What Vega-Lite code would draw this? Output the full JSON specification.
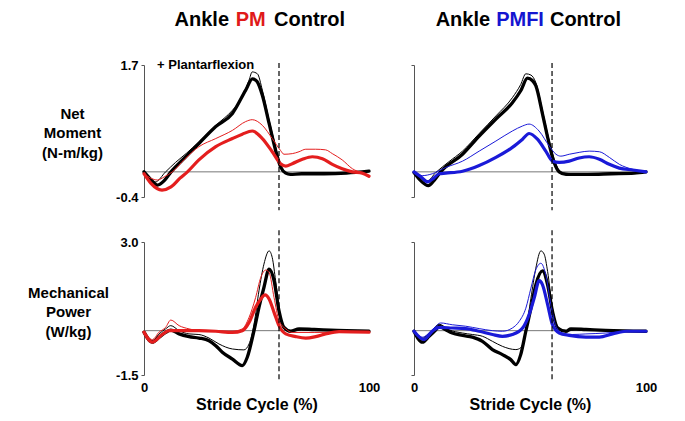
{
  "$schema": "https://vega.github.io/schema/vega-lite/v6.json",
  "padding": {"left": 27, "top": 10, "right": 5, "bottom": 5},
  "background": "white",
  "config": {
    "view": {"stroke": null},
    "font": "Liberation Sans",
    "axis": {"labelFont": "Liberation Sans", "titleFont": "Liberation Sans", "grid": false},
    "text": {"font": "Liberation Sans"}
  },
  "resolve": {"scale": {"color": "independent", "strokeWidth": "independent"}},
  "datasets": {
    "tl": [
      {"s":"ct","x":0,"y":0},{"s":"ct","x":5,"y":-0.16},{"s":"ct","x":9.6,"y":0},{"s":"ct","x":14,"y":0.15},{"s":"ct","x":19,"y":0.3},{"s":"ct","x":24.4,"y":0.48},{"s":"ct","x":31.9,"y":0.74},{"s":"ct","x":39.3,"y":0.98},{"s":"ct","x":43.7,"y":1.19},{"s":"ct","x":46.7,"y":1.46},{"s":"ct","x":48.1,"y":1.59},{"s":"ct","x":50.4,"y":1.56},{"s":"ct","x":52.6,"y":1.3},{"s":"ct","x":55.6,"y":0.82},{"s":"ct","x":58.5,"y":0.4},{"s":"ct","x":60.7,"y":0.08},{"s":"ct","x":63,"y":-0.02},{"s":"ct","x":70,"y":-0.03},{"s":"ct","x":80,"y":-0.02},{"s":"ct","x":90,"y":-0.02},{"s":"ct","x":100,"y":0.01},
      {"s":"cT","x":0,"y":0},{"s":"cT","x":3,"y":-0.12},{"s":"cT","x":6,"y":-0.21},{"s":"cT","x":9,"y":-0.14},{"s":"cT","x":12,"y":0},{"s":"cT","x":18,"y":0.22},{"s":"cT","x":24.4,"y":0.45},{"s":"cT","x":31.9,"y":0.72},{"s":"cT","x":39.3,"y":0.93},{"s":"cT","x":45.2,"y":1.3},{"s":"cT","x":48.2,"y":1.48},{"s":"cT","x":50.2,"y":1.44},{"s":"cT","x":52.6,"y":1.22},{"s":"cT","x":55.6,"y":0.77},{"s":"cT","x":58.5,"y":0.34},{"s":"cT","x":60.7,"y":0.08},{"s":"cT","x":63,"y":-0.02},{"s":"cT","x":65,"y":-0.04},{"s":"cT","x":70,"y":-0.03},{"s":"cT","x":80,"y":-0.03},{"s":"cT","x":90,"y":-0.02},{"s":"cT","x":100,"y":0.01},
      {"s":"et","x":0,"y":-0.03},{"s":"et","x":3,"y":-0.1},{"s":"et","x":6,"y":-0.13},{"s":"et","x":9,"y":-0.08},{"s":"et","x":12.6,"y":0},{"s":"et","x":18,"y":0.2},{"s":"et","x":24.4,"y":0.4},{"s":"et","x":31.9,"y":0.53},{"s":"et","x":39.3,"y":0.66},{"s":"et","x":45.2,"y":0.8},{"s":"et","x":48.1,"y":0.83},{"s":"et","x":52.6,"y":0.74},{"s":"et","x":57,"y":0.53},{"s":"et","x":60.7,"y":0.34},{"s":"et","x":62.2,"y":0.28},{"s":"et","x":65.9,"y":0.29},{"s":"et","x":68.9,"y":0.32},{"s":"et","x":71.9,"y":0.36},{"s":"et","x":76.3,"y":0.36},{"s":"et","x":80.7,"y":0.35},{"s":"et","x":83.7,"y":0.29},{"s":"et","x":88.1,"y":0.19},{"s":"et","x":92.6,"y":0.05},{"s":"et","x":97,"y":-0.02},{"s":"et","x":100,"y":-0.07},
      {"s":"eT","x":0,"y":-0.03},{"s":"eT","x":3,"y":-0.18},{"s":"eT","x":8,"y":-0.29},{"s":"eT","x":12,"y":-0.24},{"s":"eT","x":16,"y":-0.1},{"s":"eT","x":19.3,"y":0},{"s":"eT","x":24.4,"y":0.19},{"s":"eT","x":31.9,"y":0.4},{"s":"eT","x":39.3,"y":0.53},{"s":"eT","x":43.7,"y":0.6},{"s":"eT","x":48.1,"y":0.65},{"s":"eT","x":52.6,"y":0.53},{"s":"eT","x":57,"y":0.32},{"s":"eT","x":60.7,"y":0.13},{"s":"eT","x":63,"y":0.09},{"s":"eT","x":65.9,"y":0.13},{"s":"eT","x":70.4,"y":0.2},{"s":"eT","x":74.8,"y":0.24},{"s":"eT","x":79.3,"y":0.21},{"s":"eT","x":83.7,"y":0.12},{"s":"eT","x":88.1,"y":0.05},{"s":"eT","x":92.6,"y":0},{"s":"eT","x":97,"y":-0.02},{"s":"eT","x":100,"y":-0.07}
    ],
    "tr": [
      {"s":"ct","x":0,"y":-0.01},{"s":"ct","x":5.8,"y":-0.14},{"s":"ct","x":9.4,"y":-0.01},{"s":"ct","x":15,"y":0.16},{"s":"ct","x":20.9,"y":0.33},{"s":"ct","x":28.1,"y":0.61},{"s":"ct","x":35.3,"y":0.89},{"s":"ct","x":42.4,"y":1.18},{"s":"ct","x":46,"y":1.39},{"s":"ct","x":48.2,"y":1.56},{"s":"ct","x":50.4,"y":1.54},{"s":"ct","x":52.5,"y":1.42},{"s":"ct","x":55.4,"y":0.97},{"s":"ct","x":58.3,"y":0.49},{"s":"ct","x":61.2,"y":0.12},{"s":"ct","x":63.3,"y":-0.01},{"s":"ct","x":70,"y":-0.03},{"s":"ct","x":80,"y":-0.03},{"s":"ct","x":90,"y":-0.02},{"s":"ct","x":100,"y":0},
      {"s":"cT","x":0,"y":-0.01},{"s":"cT","x":2.9,"y":-0.14},{"s":"cT","x":6.2,"y":-0.22},{"s":"cT","x":8.6,"y":-0.14},{"s":"cT","x":11.5,"y":0},{"s":"cT","x":20.9,"y":0.28},{"s":"cT","x":28.1,"y":0.57},{"s":"cT","x":35.3,"y":0.84},{"s":"cT","x":42.4,"y":1.1},{"s":"cT","x":46,"y":1.29},{"s":"cT","x":48.9,"y":1.49},{"s":"cT","x":51.1,"y":1.45},{"s":"cT","x":52.5,"y":1.37},{"s":"cT","x":55.4,"y":0.92},{"s":"cT","x":57.6,"y":0.55},{"s":"cT","x":60.4,"y":0.15},{"s":"cT","x":62.6,"y":0},{"s":"cT","x":65.5,"y":-0.04},{"s":"cT","x":75,"y":-0.04},{"s":"cT","x":85,"y":-0.03},{"s":"cT","x":95,"y":-0.02},{"s":"cT","x":100,"y":0},
      {"s":"et","x":0,"y":0},{"s":"et","x":3.6,"y":-0.06},{"s":"et","x":7.9,"y":-0.03},{"s":"et","x":13.7,"y":0.07},{"s":"et","x":20.9,"y":0.17},{"s":"et","x":28.1,"y":0.33},{"s":"et","x":35.3,"y":0.49},{"s":"et","x":42.4,"y":0.65},{"s":"et","x":46.8,"y":0.73},{"s":"et","x":49.6,"y":0.76},{"s":"et","x":53.9,"y":0.65},{"s":"et","x":58.3,"y":0.41},{"s":"et","x":61.2,"y":0.28},{"s":"et","x":63.3,"y":0.25},{"s":"et","x":66.9,"y":0.28},{"s":"et","x":71.2,"y":0.31},{"s":"et","x":75.5,"y":0.33},{"s":"et","x":79.9,"y":0.32},{"s":"et","x":84.2,"y":0.23},{"s":"et","x":88.5,"y":0.12},{"s":"et","x":94.3,"y":0.04},{"s":"et","x":100,"y":0},
      {"s":"eT","x":0,"y":0},{"s":"eT","x":3,"y":-0.08},{"s":"eT","x":5.8,"y":-0.16},{"s":"eT","x":8.5,"y":-0.1},{"s":"eT","x":10.8,"y":-0.03},{"s":"eT","x":13.7,"y":-0.02},{"s":"eT","x":20.9,"y":0.01},{"s":"eT","x":28.1,"y":0.1},{"s":"eT","x":35.3,"y":0.23},{"s":"eT","x":42.4,"y":0.39},{"s":"eT","x":46.8,"y":0.52},{"s":"eT","x":49.6,"y":0.61},{"s":"eT","x":53.2,"y":0.52},{"s":"eT","x":56.8,"y":0.33},{"s":"eT","x":59.7,"y":0.17},{"s":"eT","x":62.6,"y":0.15},{"s":"eT","x":66.9,"y":0.17},{"s":"eT","x":71.2,"y":0.22},{"s":"eT","x":75.5,"y":0.24},{"s":"eT","x":79.9,"y":0.2},{"s":"eT","x":84.2,"y":0.12},{"s":"eT","x":88.5,"y":0.06},{"s":"eT","x":94.3,"y":0.03},{"s":"eT","x":100,"y":0}
    ],
    "bl": [
      {"s":"ct","x":0,"y":-0.03},{"s":"ct","x":3.7,"y":-0.34},{"s":"ct","x":6.7,"y":-0.11},{"s":"ct","x":9.6,"y":0.06},{"s":"ct","x":11.9,"y":0.17},{"s":"ct","x":15.6,"y":0},{"s":"ct","x":20,"y":-0.11},{"s":"ct","x":24.4,"y":-0.13},{"s":"ct","x":28.9,"y":-0.25},{"s":"ct","x":33.3,"y":-0.45},{"s":"ct","x":39.3,"y":-0.62},{"s":"ct","x":44.4,"y":-0.65},{"s":"ct","x":46.7,"y":-0.45},{"s":"ct","x":48.9,"y":0.22},{"s":"ct","x":51.1,"y":1.35},{"s":"ct","x":53.3,"y":2.25},{"s":"ct","x":55.6,"y":2.7},{"s":"ct","x":57,"y":2.47},{"s":"ct","x":58.5,"y":1.69},{"s":"ct","x":60.7,"y":0.45},{"s":"ct","x":63,"y":0.06},{"s":"ct","x":65.9,"y":-0.02},{"s":"ct","x":70,"y":0.02},{"s":"ct","x":80,"y":0.01},{"s":"ct","x":90,"y":0},{"s":"ct","x":100,"y":0},
      {"s":"cT","x":0,"y":-0.05},{"s":"cT","x":3.7,"y":-0.39},{"s":"cT","x":6.7,"y":-0.22},{"s":"cT","x":9.6,"y":-0.06},{"s":"cT","x":11.9,"y":0.02},{"s":"cT","x":15.6,"y":-0.11},{"s":"cT","x":20,"y":-0.2},{"s":"cT","x":24.4,"y":-0.25},{"s":"cT","x":28.9,"y":-0.34},{"s":"cT","x":31.9,"y":-0.51},{"s":"cT","x":34.8,"y":-0.73},{"s":"cT","x":39.3,"y":-0.96},{"s":"cT","x":43.7,"y":-1.18},{"s":"cT","x":45.9,"y":-0.9},{"s":"cT","x":48.9,"y":0},{"s":"cT","x":51.1,"y":0.79},{"s":"cT","x":53.3,"y":1.46},{"s":"cT","x":55.6,"y":2.08},{"s":"cT","x":57.8,"y":1.69},{"s":"cT","x":60,"y":0.67},{"s":"cT","x":62.2,"y":0.11},{"s":"cT","x":65.2,"y":-0.02},{"s":"cT","x":68.9,"y":0.06},{"s":"cT","x":75.6,"y":0.04},{"s":"cT","x":83,"y":0.02},{"s":"cT","x":90,"y":0},{"s":"cT","x":100,"y":-0.02},
      {"s":"et","x":0,"y":-0.03},{"s":"et","x":3.7,"y":-0.3},{"s":"et","x":6.7,"y":-0.05},{"s":"et","x":9.6,"y":0.11},{"s":"et","x":11.9,"y":0.36},{"s":"et","x":15.6,"y":0.17},{"s":"et","x":20,"y":0.06},{"s":"et","x":24.4,"y":0},{"s":"et","x":31.9,"y":-0.02},{"s":"et","x":39.3,"y":-0.02},{"s":"et","x":43.7,"y":0.06},{"s":"et","x":46.7,"y":0.45},{"s":"et","x":49.6,"y":1.12},{"s":"et","x":51.9,"y":1.8},{"s":"et","x":54.1,"y":2.05},{"s":"et","x":55.6,"y":1.97},{"s":"et","x":57.8,"y":1.12},{"s":"et","x":60,"y":0.34},{"s":"et","x":63,"y":0.06},{"s":"et","x":65.9,"y":-0.06},{"s":"et","x":75.6,"y":-0.06},{"s":"et","x":90,"y":-0.05},{"s":"et","x":100,"y":-0.05},
      {"s":"eT","x":0,"y":-0.05},{"s":"eT","x":3.7,"y":-0.39},{"s":"eT","x":8.1,"y":-0.13},{"s":"eT","x":11.1,"y":0},{"s":"eT","x":15.6,"y":0},{"s":"eT","x":24.4,"y":0},{"s":"eT","x":31.9,"y":-0.02},{"s":"eT","x":39.3,"y":-0.06},{"s":"eT","x":43.7,"y":0},{"s":"eT","x":46.7,"y":0.28},{"s":"eT","x":49.6,"y":0.79},{"s":"eT","x":51.9,"y":1.07},{"s":"eT","x":53.8,"y":1.21},{"s":"eT","x":55.6,"y":1.07},{"s":"eT","x":57.8,"y":0.62},{"s":"eT","x":60,"y":0.17},{"s":"eT","x":63,"y":-0.11},{"s":"eT","x":67.4,"y":-0.2},{"s":"eT","x":71.9,"y":-0.25},{"s":"eT","x":76.3,"y":-0.2},{"s":"eT","x":80.7,"y":-0.11},{"s":"eT","x":86.7,"y":-0.03},{"s":"eT","x":100,"y":-0.05}
    ],
    "br": [
      {"s":"ct","x":0,"y":-0.02},{"s":"ct","x":3.6,"y":-0.25},{"s":"ct","x":7.9,"y":0.03},{"s":"ct","x":10.8,"y":0.22},{"s":"ct","x":15.1,"y":0.03},{"s":"ct","x":20.9,"y":-0.08},{"s":"ct","x":25.2,"y":-0.13},{"s":"ct","x":29.5,"y":-0.19},{"s":"ct","x":33.8,"y":-0.36},{"s":"ct","x":38.1,"y":-0.53},{"s":"ct","x":43.9,"y":-0.64},{"s":"ct","x":46,"y":-0.58},{"s":"ct","x":48.2,"y":-0.02},{"s":"ct","x":50.4,"y":1.1},{"s":"ct","x":52.5,"y":2.11},{"s":"ct","x":54.7,"y":2.7},{"s":"ct","x":56.1,"y":2.59},{"s":"ct","x":57.6,"y":2.0},{"s":"ct","x":59.7,"y":0.76},{"s":"ct","x":61.9,"y":0.15},{"s":"ct","x":65.5,"y":-0.02},{"s":"ct","x":70,"y":0.03},{"s":"ct","x":80,"y":0.02},{"s":"ct","x":90,"y":0.01},{"s":"ct","x":100,"y":0},
      {"s":"cT","x":0,"y":-0.02},{"s":"cT","x":3.6,"y":-0.39},{"s":"cT","x":6.5,"y":-0.19},{"s":"cT","x":9.4,"y":0.03},{"s":"cT","x":10.8,"y":0.15},{"s":"cT","x":13.7,"y":0.03},{"s":"cT","x":16.5,"y":-0.08},{"s":"cT","x":20.9,"y":-0.16},{"s":"cT","x":25.2,"y":-0.22},{"s":"cT","x":29.5,"y":-0.36},{"s":"cT","x":33.8,"y":-0.64},{"s":"cT","x":38.1,"y":-0.81},{"s":"cT","x":41.7,"y":-0.98},{"s":"cT","x":43.9,"y":-1.15},{"s":"cT","x":46,"y":-0.81},{"s":"cT","x":48.2,"y":-0.02},{"s":"cT","x":50.4,"y":0.76},{"s":"cT","x":52.5,"y":1.55},{"s":"cT","x":55.4,"y":2.02},{"s":"cT","x":57.6,"y":1.55},{"s":"cT","x":59.7,"y":0.65},{"s":"cT","x":61.9,"y":0.09},{"s":"cT","x":65.5,"y":-0.02},{"s":"cT","x":67.6,"y":0.06},{"s":"cT","x":74.1,"y":0.04},{"s":"cT","x":82.7,"y":0.01},{"s":"cT","x":100,"y":-0.02},
      {"s":"et","x":0,"y":0},{"s":"et","x":3.6,"y":-0.22},{"s":"et","x":7.9,"y":0.03},{"s":"et","x":11.5,"y":0.26},{"s":"et","x":16.5,"y":0.2},{"s":"et","x":22.3,"y":0.15},{"s":"et","x":28.1,"y":0.07},{"s":"et","x":33.8,"y":0},{"s":"et","x":38.1,"y":-0.02},{"s":"et","x":42.4,"y":0.09},{"s":"et","x":45.3,"y":0.31},{"s":"et","x":48.2,"y":0.76},{"s":"et","x":50.4,"y":1.44},{"s":"et","x":52.5,"y":2.06},{"s":"et","x":54.7,"y":2.28},{"s":"et","x":56.8,"y":1.89},{"s":"et","x":59,"y":0.88},{"s":"et","x":61.2,"y":0.15},{"s":"et","x":64,"y":-0.08},{"s":"et","x":68.3,"y":-0.13},{"s":"et","x":74.1,"y":-0.11},{"s":"et","x":82.7,"y":-0.08},{"s":"et","x":91.4,"y":-0.02},{"s":"et","x":100,"y":0},
      {"s":"eT","x":0,"y":-0.02},{"s":"eT","x":4.3,"y":-0.3},{"s":"eT","x":7.9,"y":-0.02},{"s":"eT","x":10.8,"y":0.11},{"s":"eT","x":16.5,"y":0.09},{"s":"eT","x":22.3,"y":0.07},{"s":"eT","x":28.1,"y":-0.02},{"s":"eT","x":33.8,"y":-0.13},{"s":"eT","x":38.1,"y":-0.19},{"s":"eT","x":42.4,"y":-0.13},{"s":"eT","x":46.8,"y":0.09},{"s":"eT","x":49.6,"y":0.54},{"s":"eT","x":51.8,"y":1.1},{"s":"eT","x":54,"y":1.69},{"s":"eT","x":55.4,"y":1.55},{"s":"eT","x":57.6,"y":0.88},{"s":"eT","x":59.7,"y":0.2},{"s":"eT","x":62.6,"y":-0.08},{"s":"eT","x":66.9,"y":-0.16},{"s":"eT","x":74.1,"y":-0.22},{"s":"eT","x":79.9,"y":-0.22},{"s":"eT","x":85.6,"y":-0.11},{"s":"eT","x":91.4,"y":-0.02},{"s":"eT","x":100,"y":-0.02}
    ]
  },
  "columns": 2,
  "spacing": {"row": 45, "column": 45},
  "bounds": "flush",
  "align": "each",
  "concat": [
    {
      "width": 225, "height": 132,
      "resolve": {"axis": {"x": "independent", "y": "independent"}},
      "layer": [
        {"data": {"values": [{}]}, "mark": {"type": "rule", "color": "#777777", "strokeWidth": 1}, "encoding": {"y": {"datum": 0, "type": "quantitative", "axis": null}}},
        {"data": {"name": "tl"}, "mark": {"type": "line", "interpolate": "monotone", "strokeJoin": "round", "strokeCap": "round"},
         "encoding": {
           "x": {"field": "x", "type": "quantitative", "scale": {"domain": [0, 100], "nice": false, "zero": false}, "axis": null},
           "y": {"field": "y", "type": "quantitative", "scale": {"domain": [-0.4, 1.7], "nice": false, "zero": false},
                 "axis": {"values": [-0.4, 1.7], "labelExpr": "datum.value < 0 ? '-' + format(-datum.value, '.1f') : format(datum.value, '.1f')", "labelFlush": false, "labelFontSize": 13, "labelFontWeight": "bold", "labelColor": "black", "labelPadding": 3, "tickSize": 3, "tickColor": "#555555", "domainColor": "#555555", "title": ["Net", "Moment", "(N-m/kg)"], "titleAngle": 0, "titleAlign": "center", "titleBaseline": "middle", "titleX": -72, "titleY": 48, "titleFontSize": 15, "titleFontWeight": "bold", "titleColor": "black", "titleLineHeight": 19.5}},
           "color": {"field": "s", "type": "nominal", "scale": {"domain": ["ct", "cT", "et", "eT"], "range": ["#000000", "#000000", "#e41e1e", "#e41e1e"]}, "legend": null},
           "strokeWidth": {"field": "s", "type": "nominal", "scale": {"type": "ordinal", "domain": ["ct", "cT", "et", "eT"], "range": [1, 3.3, 1, 3.2]}, "legend": null}
         }},
        {"data": {"values": [{}]}, "mark": {"type": "rule", "color": "black", "strokeWidth": 1.2, "strokeDash": [5, 3]}, "encoding": {"x": {"datum": 60, "type": "quantitative", "axis": null}, "y": {"datum": 1.73, "type": "quantitative", "axis": null}, "y2": {"datum": -0.61}}},
        {"data": {"values": [{}]}, "mark": {"type": "text", "text": "+ Plantarflexion", "align": "left", "baseline": "middle", "fontSize": 13, "fontWeight": "bold", "color": "black"}, "encoding": {"x": {"datum": 5.8, "type": "quantitative", "axis": null}, "y": {"datum": 1.7, "type": "quantitative", "axis": null}}},
        {"data": {"values": [{}]}, "mark": {"type": "text", "text": "Ankle", "align": "right", "baseline": "alphabetic", "fontSize": 20, "fontWeight": "bold", "color": "black"}, "encoding": {"x": {"datum": 37.8, "type": "quantitative", "axis": null}, "y": {"datum": 2.32, "type": "quantitative", "axis": null}}},
        {"data": {"values": [{}]}, "mark": {"type": "text", "text": "PM", "align": "center", "baseline": "alphabetic", "fontSize": 20, "fontWeight": "bold", "color": "#e01a1a"}, "encoding": {"x": {"datum": 47.4, "type": "quantitative", "axis": null}, "y": {"datum": 2.32, "type": "quantitative", "axis": null}}},
        {"data": {"values": [{}]}, "mark": {"type": "text", "text": "Control", "align": "left", "baseline": "alphabetic", "fontSize": 20, "fontWeight": "bold", "color": "black"}, "encoding": {"x": {"datum": 57.8, "type": "quantitative", "axis": null}, "y": {"datum": 2.32, "type": "quantitative", "axis": null}}}
      ]
    },
    {
      "width": 232, "height": 132,
      "resolve": {"axis": {"x": "independent", "y": "independent"}},
      "layer": [
        {"data": {"values": [{}]}, "mark": {"type": "rule", "color": "#777777", "strokeWidth": 1}, "encoding": {"y": {"datum": 0, "type": "quantitative", "axis": null}}},
        {"data": {"name": "tr"}, "mark": {"type": "line", "interpolate": "monotone", "strokeJoin": "round", "strokeCap": "round"},
         "encoding": {
           "x": {"field": "x", "type": "quantitative", "scale": {"domain": [0, 100], "nice": false, "zero": false}, "axis": null},
           "y": {"field": "y", "type": "quantitative", "scale": {"domain": [-0.4, 1.7], "nice": false, "zero": false},
                 "axis": {"values": [-0.4, 1.7], "labels": false, "tickSize": 3, "tickColor": "#555555", "domainColor": "#555555", "title": null}},
           "color": {"field": "s", "type": "nominal", "scale": {"domain": ["ct", "cT", "et", "eT"], "range": ["#000000", "#000000", "#1a1ad8", "#1a1ad8"]}, "legend": null},
           "strokeWidth": {"field": "s", "type": "nominal", "scale": {"type": "ordinal", "domain": ["ct", "cT", "et", "eT"], "range": [1, 3.3, 1, 3.2]}, "legend": null}
         }},
        {"data": {"values": [{}]}, "mark": {"type": "rule", "color": "black", "strokeWidth": 1.2, "strokeDash": [5, 3]}, "encoding": {"x": {"datum": 59.5, "type": "quantitative", "axis": null}, "y": {"datum": 1.73, "type": "quantitative", "axis": null}, "y2": {"datum": -0.61}}},
        {"data": {"values": [{}]}, "mark": {"type": "text", "text": "Ankle", "align": "right", "baseline": "alphabetic", "fontSize": 20, "fontWeight": "bold", "color": "black"}, "encoding": {"x": {"datum": 32.8, "type": "quantitative", "axis": null}, "y": {"datum": 2.32, "type": "quantitative", "axis": null}}},
        {"data": {"values": [{}]}, "mark": {"type": "text", "text": "PMFI", "align": "center", "baseline": "alphabetic", "fontSize": 20, "fontWeight": "bold", "color": "#1515d0"}, "encoding": {"x": {"datum": 45.7, "type": "quantitative", "axis": null}, "y": {"datum": 2.32, "type": "quantitative", "axis": null}}},
        {"data": {"values": [{}]}, "mark": {"type": "text", "text": "Control", "align": "left", "baseline": "alphabetic", "fontSize": 20, "fontWeight": "bold", "color": "black"}, "encoding": {"x": {"datum": 58.6, "type": "quantitative", "axis": null}, "y": {"datum": 2.32, "type": "quantitative", "axis": null}}}
      ]
    },
    {
      "width": 225, "height": 133,
      "resolve": {"axis": {"x": "independent", "y": "independent"}},
      "layer": [
        {"data": {"values": [{}]}, "mark": {"type": "rule", "color": "#777777", "strokeWidth": 1}, "encoding": {"y": {"datum": 0, "type": "quantitative", "axis": null}}},
        {"data": {"name": "bl"}, "mark": {"type": "line", "interpolate": "monotone", "strokeJoin": "round", "strokeCap": "round"},
         "encoding": {
           "x": {"field": "x", "type": "quantitative", "scale": {"domain": [0, 100], "nice": false, "zero": false},
                 "axis": {"values": [0, 100], "labelFlush": false, "domain": false, "ticks": false, "tickSize": 0, "labelFontSize": 13, "labelFontWeight": "bold", "labelColor": "black", "labelPadding": 6, "title": "Stride Cycle (%)", "titleFontSize": 16, "titleFontWeight": "bold", "titleColor": "black", "titlePadding": 2}},
           "y": {"field": "y", "type": "quantitative", "scale": {"domain": [-1.5, 3.0], "nice": false, "zero": false},
                 "axis": {"values": [-1.5, 3.0], "labelExpr": "datum.value < 0 ? '-' + format(-datum.value, '.1f') : format(datum.value, '.1f')", "labelFlush": false, "labelFontSize": 13, "labelFontWeight": "bold", "labelColor": "black", "labelPadding": 3, "tickSize": 3, "tickColor": "#555555", "domainColor": "#555555", "title": ["Mechanical", "Power", "(W/kg)"], "titleAngle": 0, "titleAlign": "center", "titleBaseline": "middle", "titleX": -76, "titleY": 50, "titleFontSize": 15, "titleFontWeight": "bold", "titleColor": "black", "titleLineHeight": 19.5}},
           "color": {"field": "s", "type": "nominal", "scale": {"domain": ["ct", "cT", "et", "eT"], "range": ["#000000", "#000000", "#e41e1e", "#e41e1e"]}, "legend": null},
           "strokeWidth": {"field": "s", "type": "nominal", "scale": {"type": "ordinal", "domain": ["ct", "cT", "et", "eT"], "range": [1, 3.3, 1, 3.2]}, "legend": null}
         }},
        {"data": {"values": [{}]}, "mark": {"type": "rule", "color": "black", "strokeWidth": 1.2, "strokeDash": [5, 3]}, "encoding": {"x": {"datum": 60, "type": "quantitative", "axis": null}, "y": {"datum": 3.4, "type": "quantitative", "axis": null}, "y2": {"datum": -1.67}}}
      ]
    },
    {
      "width": 232, "height": 133,
      "resolve": {"axis": {"x": "independent", "y": "independent"}},
      "layer": [
        {"data": {"values": [{}]}, "mark": {"type": "rule", "color": "#777777", "strokeWidth": 1}, "encoding": {"y": {"datum": 0, "type": "quantitative", "axis": null}}},
        {"data": {"name": "br"}, "mark": {"type": "line", "interpolate": "monotone", "strokeJoin": "round", "strokeCap": "round"},
         "encoding": {
           "x": {"field": "x", "type": "quantitative", "scale": {"domain": [0, 100], "nice": false, "zero": false},
                 "axis": {"values": [0, 100], "labelFlush": false, "domain": false, "ticks": false, "tickSize": 0, "labelFontSize": 13, "labelFontWeight": "bold", "labelColor": "black", "labelPadding": 6, "title": "Stride Cycle (%)", "titleFontSize": 16, "titleFontWeight": "bold", "titleColor": "black", "titlePadding": 2}},
           "y": {"field": "y", "type": "quantitative", "scale": {"domain": [-1.5, 3.0], "nice": false, "zero": false},
                 "axis": {"values": [-1.5, 3.0], "labels": false, "tickSize": 3, "tickColor": "#555555", "domainColor": "#555555", "title": null}},
           "color": {"field": "s", "type": "nominal", "scale": {"domain": ["ct", "cT", "et", "eT"], "range": ["#000000", "#000000", "#1a1ad8", "#1a1ad8"]}, "legend": null},
           "strokeWidth": {"field": "s", "type": "nominal", "scale": {"type": "ordinal", "domain": ["ct", "cT", "et", "eT"], "range": [1, 3.3, 1, 3.2]}, "legend": null}
         }},
        {"data": {"values": [{}]}, "mark": {"type": "rule", "color": "black", "strokeWidth": 1.2, "strokeDash": [5, 3]}, "encoding": {"x": {"datum": 59.5, "type": "quantitative", "axis": null}, "y": {"datum": 3.4, "type": "quantitative", "axis": null}, "y2": {"datum": -1.67}}}
      ]
    }
  ]
}
